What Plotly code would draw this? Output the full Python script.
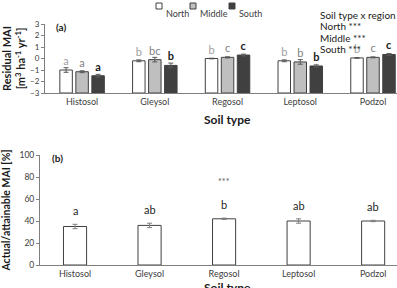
import plotly.graph_objects as go

W, H = 397, 288

soils = ["Histosol", "Gleysol", "Regosol", "Leptosol", "Podzol"]
regions = ["North", "Middle", "South"]

# Panel (a): residual MAI per region
resid = {
    "North":  [-1.0, -0.2, 0.0, -0.2, 0.05],
    "Middle": [-1.15, -0.1, 0.1, -0.3, 0.1],
    "South":  [-1.5, -0.6, 0.3, -0.65, 0.35],
}
resid_err = {
    "North":  [0.2, 0.08, 0.03, 0.08, 0.03],
    "Middle": [0.08, 0.2, 0.05, 0.2, 0.04],
    "South":  [0.12, 0.2, 0.08, 0.1, 0.08],
}
resid_letters = {
    "North":  ["a", "b", "b", "b", "b"],
    "Middle": ["a", "bc", "c", "b", "c"],
    "South":  ["a", "b", "c", "b", "c"],
}
resid_ticks = [-3, -2, -1, 0, 1, 2, 3]

# Panel (b): actual/attainable MAI
ratio = [35, 36, 42, 40, 40]
ratio_err = [2, 2, 0.6, 2, 0.6]
ratio_letters = ["a", "ab", "b", "ab", "ab"]
ratio_ticks = [0, 20, 40, 60, 80, 100]

FONT = "Lato"
AX = "#404040"

fills = {"North": "#ffffff", "Middle": "#bfbfbf", "South": "#404040"}
letter_col = {"North": "#a0a0a0", "Middle": "#7f7f7f", "South": "#1a1a1a"}

def px(x):
    return x / W

def py(y):
    return 1 - y / H

fig = go.Figure()

BASE = -3
for r in regions:
    txt = [("<b>%s</b>" % t) if r == "South" else t for t in resid_letters[r]]
    fig.add_trace(go.Bar(
        x=soils, y=[v - BASE for v in resid[r]], base=BASE, name=r,
        marker=dict(color=fills[r], line=dict(color=AX, width=1)),
        error_y=dict(type="data", array=resid_err[r], color="#595959", thickness=1, width=2.5),
        text=txt, textposition="outside", constraintext="none", cliponaxis=False,
        textfont=dict(color=letter_col[r], size=11, family=FONT),
        xaxis="x", yaxis="y", showlegend=False,
    ))

fig.add_trace(go.Bar(
    x=soils, y=ratio, width=0.31,
    marker=dict(color="#ffffff", line=dict(color=AX, width=1)),
    error_y=dict(type="data", array=ratio_err, color="#7f7f7f", thickness=1, width=2.5),
    xaxis="x2", yaxis="y2", showlegend=False,
))

ann = []
for i, s in enumerate(soils):
    ann.append(dict(x=s, y=ratio[i] + ratio_err[i], xref="x2", yref="y2", text=ratio_letters[i],
                    showarrow=False, yanchor="bottom", yshift=5,
                    font=dict(size=11, color="#262626", family=FONT)))
ann.append(dict(x="Regosol", y=ratio[2], xref="x2", yref="y2", text="***", showarrow=False,
                yanchor="bottom", yshift=30, font=dict(size=9, color="#595959", family=FONT)))

ann += [
    dict(x=px(54), y=py(19), xref="paper", yref="paper", text="<b>(a)</b>", showarrow=False,
         xanchor="left", font=dict(size=10, color="#1a1a1a", family=FONT)),
    dict(x=px(50), y=py(158), xref="paper", yref="paper", text="<b>(b)</b>", showarrow=False,
         xanchor="left", font=dict(size=10, color="#1a1a1a", family=FONT)),
    dict(x=px(227), y=py(119), xref="paper", yref="paper", text="<b>Soil type</b>", showarrow=False,
         font=dict(size=12, color="#1a1a1a", family=FONT)),
    dict(x=px(227), y=py(297), xref="paper", yref="paper", text="<b>Soil type</b>", showarrow=False,
         font=dict(size=12, color="#1a1a1a", family=FONT)),
]

stats = ["Soil type x region ***", "North ***", "Middle ***", "South ***"]
for k, t in enumerate(stats):
    ann.append(dict(x=px(318), y=py(7 + 11.3 * k), xref="paper", yref="paper", text=t,
                    showarrow=False, xanchor="left", font=dict(size=10, color="#1a1a1a", family=FONT)))

# compact legend like the original
shapes = []
leg_x = [156, 190, 229]
for r, lx in zip(regions, leg_x):
    shapes.append(dict(type="rect", xref="paper", yref="paper",
                       x0=px(lx), x1=px(lx + 6), y0=py(9), y1=py(3),
                       fillcolor=fills[r], line=dict(color=AX, width=1)))
    ann.append(dict(x=px(lx + 8), y=py(6), xref="paper", yref="paper", text=r, showarrow=False,
                    xanchor="left", font=dict(size=9, color="#404040", family=FONT)))

def axis_style():
    return dict(showline=True, linecolor="#7f7f7f", linewidth=1, showgrid=False, zeroline=False,
                automargin=False)

fig.update_layout(
    width=W, height=H, margin=dict(l=0, r=0, t=0, b=0),
    paper_bgcolor="white", plot_bgcolor="white",
    barmode="group", bargap=0.34, bargroupgap=0.22,
    font=dict(family=FONT, size=9, color="#404040"),
    annotations=ann, shapes=shapes,
)
fig.update_layout(
    xaxis=dict(domain=[px(45), 1], range=[-0.51, 4.33], anchor="y", ticks="",
               tickfont=dict(size=9, color="#404040", family=FONT), **axis_style()),
    yaxis=dict(domain=[py(93), py(24)], range=[-3, 3], tickmode="array", tickvals=resid_ticks,
               anchor="x", ticks="outside",
               ticklen=3, tickcolor="#7f7f7f", tickfont=dict(size=8, color="#404040", family=FONT),
               title=dict(text="<b>Residual MAI<br>[m<sup>3</sup> ha<sup>-1</sup> yr<sup>-1</sup>]</b>",
                          font=dict(size=11, color="#1a1a1a")),
               **axis_style()),
    xaxis2=dict(domain=[px(40), 1], range=[-0.47, 4.32], anchor="y2", ticks="",
                tickfont=dict(size=9, color="#404040", family=FONT), **axis_style()),
    yaxis2=dict(domain=[py(265), py(155)], range=[0, 100], tickmode="array", tickvals=ratio_ticks,
                anchor="x2", ticks="outside",
                ticklen=3, tickcolor="#7f7f7f", tickfont=dict(size=8.5, color="#404040", family=FONT),
                title=dict(text="<b>Actual/attainable MAI [%]</b>",
                           font=dict(size=10.5, color="#1a1a1a")),
                **axis_style()),
)

fig.write_html("out.html")
